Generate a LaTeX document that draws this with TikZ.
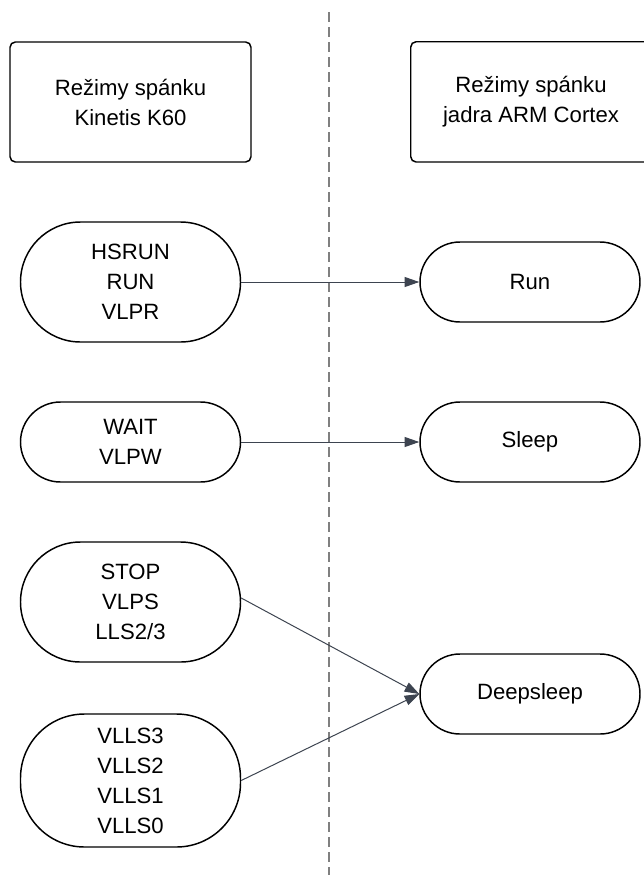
\documentclass[tikz,border=0pt]{standalone}
\usepackage{fontspec}
\setmainfont{Liberation Sans}
\usetikzlibrary{arrows.meta}
\begin{document}
\begin{tikzpicture}[x=0.75pt,y=-0.75pt,
  txt/.style={font=\fontsize{16.6pt}{22.5pt}\selectfont, align=center, inner sep=0pt},
  titlebox/.style={txt, draw=black, line width=1.1pt, rounded corners=4pt, minimum height=90pt},
  pill/.style={txt, draw=black, line width=1.1pt, minimum width=165pt},
  link/.style={color={rgb,255:red,61;green,68;blue,80}, line width=0.75pt, -{Triangle[length=11pt,width=7.5pt]}},
  divider/.style={draw={rgb,255:red,128;green,128;blue,128}, line width=1.5pt, dash pattern=on 7.5pt off 3.75pt}
]
\useasboundingbox (0,0) rectangle (643,875);
\coordinate (dtop) at (329,12);
\coordinate (dbot) at (329,875);
\draw[divider] (dtop) -- (dbot);

\node[titlebox, minimum width=180.75pt] (tl) at (130.5,102) {Režimy spánku\\Kinetis K60};
\node[txt, minimum width=180pt, minimum height=90pt] (tr) at (531,102) {Režimy spánku\\jadra ARM Cortex};
\coordinate (trfar) at (700,162);
\draw[line width=1.1pt, rounded corners=4pt] (tr.north west) rectangle (trfar);

\node[pill, minimum height=90pt, rounded corners=45pt] (hs) at (130.5,282) {HSRUN\\RUN\\VLPR};
\node[pill, minimum height=60pt, rounded corners=30pt] (wa) at (130.5,442) {WAIT\\VLPW};
\node[pill, minimum height=90pt, rounded corners=45pt] (st) at (130.5,602) {STOP\\VLPS\\LLS2/3};
\node[pill, minimum height=99.75pt, rounded corners=48pt] (vl) at (130.5,780.5) {VLLS3\\VLLS2\\VLLS1\\VLLS0};

\node[pill, minimum height=60pt, rounded corners=30pt] (run) at (530,282) {Run};
\node[pill, minimum height=60pt, rounded corners=30pt] (sl) at (530,442) {Sleep};
\node[pill, minimum height=60pt, rounded corners=30pt] (ds) at (530,694) {Deepsleep};

\draw[link] (hs.east) -- (run.west);
\draw[link] (wa.east) -- (sl.west);
\draw[link] (st.east) ++(0,-4) -- (ds.west);
\draw[link] (vl.east) -- (ds.west);
\end{tikzpicture}
\end{document}
